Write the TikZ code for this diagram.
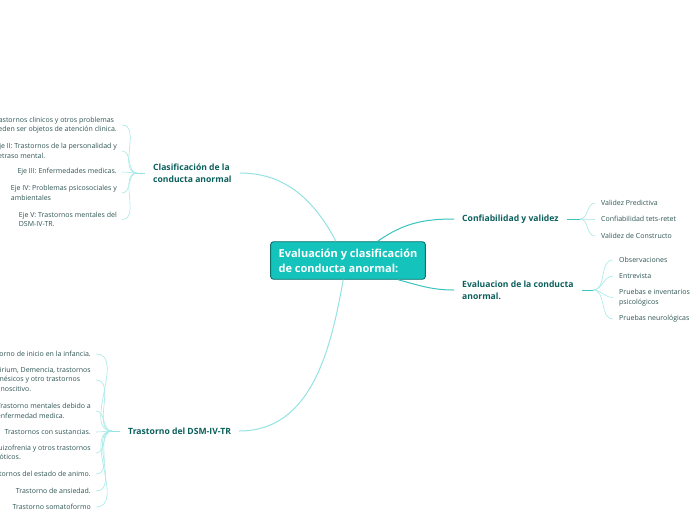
\documentclass[tikz,border=0pt]{standalone}
\usepackage{fontspec}
\setmainfont{Open Sans}

\definecolor{tealfill}{HTML}{14C4BC}
\definecolor{tealedge}{HTML}{0E6F6B}
\definecolor{branchtxt}{HTML}{0B5F5C}
\definecolor{leaftxt}{HTML}{2E5553}
\definecolor{twiglight}{HTML}{A8E9E9}
\definecolor{limblight}{HTML}{95E2E2}
\definecolor{limbdark}{HTML}{3AC4BF}

\tikzset{
  mainbox/.style={draw=tealedge, fill=tealfill, rounded corners=3pt, line width=0.9pt,
    text=white, font=\fontsize{11}{15}\selectfont\bfseries, align=left,
    inner xsep=8pt, inner ysep=7pt},
  branch/.style={text=branchtxt, font=\fontsize{8.6}{12}\selectfont\bfseries,
    align=left, inner xsep=8pt, inner ysep=1pt},
  leafR/.style={anchor=west, text=leaftxt, font=\fontsize{7}{9.5}\selectfont,
    align=left, inner xsep=6pt, inner ysep=0pt},
  leafL/.style={leafR, anchor=east, inner xsep=5pt},
  twig/.style={draw=twiglight, line width=0.6pt},
  limb/.style={line width=1pt}
}

\begin{document}
\begin{tikzpicture}[x=1pt, y=1pt]

% page
\fill[white] (0,0) rectangle (696,-520);
\useasboundingbox (0,0) rectangle (696,-520);

% Central topic
\node[mainbox] (eval) at (348,-260.5) {Evaluación y clasificación\\de conducta anormal:};

% Main branches
\node[branch, anchor=west] (clas) at (145,-173) {Clasificación de la\\conducta anormal};
\node[branch, anchor=west] (conf) at (454,-219) {Confiabilidad y validez};
\node[branch, anchor=west] (evcond) at (454,-290) {Evaluacion de la conducta\\anormal.};
\node[branch, anchor=west] (dsm) at (120,-431) {Trastorno del DSM-IV-TR};

\draw[limb, limblight] (eval.122) to[out=118, in=0] (clas.east);
\draw[limb, limbdark] (eval.33) to[out=35, in=180] (conf.west);
\draw[limb, limbdark] (eval.-21) to[out=-15, in=180] (evcond.west);
\draw[limb, limblight] (eval.-104) to[out=-100, in=0] (dsm.east);

% hubs where the leaves fan out
\coordinate (confhub) at (580,-219);
\coordinate (evhub) at (593,-290);
\coordinate (clashub) at (137,-173);
\coordinate (dsmhub) at (112,-431);

\draw[limbdark, line width=0.8pt] (conf.east) -- (confhub);
\draw[limbdark, line width=0.8pt] (evcond.east |- evhub) -- (evhub);
\draw[limblight, line width=0.8pt] (clas.west) -- (clashub);
\draw[limblight, line width=0.8pt] (dsm.west) -- (dsmhub);

% Confiabilidad y validez
\foreach \k/\yy/\txt in {
  1/203/Validez Predictiva,
  2/219/Confiabilidad tets-retet,
  3/236/Validez de Constructo}{
  \node[leafR] (conf\k) at (595,-\yy) {\txt};
  \draw[twig] (conf\k.west) to[out=180, in=0] (confhub);
}

% Evaluacion de la conducta
\foreach \k/\yy/\txt in {
  1/260/Observaciones,
  2/276/Entrevista,
  3/297.5/{Pruebas e inventarios\\psicológicos},
  4/319/Pruebas neurológicas}{
  \node[leafR] (ev\k) at (613,-\yy) {\txt};
  \draw[twig] (ev\k.west) to[out=180, in=0] (evhub);
}

% Clasificacion (ejes)
\foreach \k/\yy/\txt in {
  1/125/{Eje I: Trastornos clinicos y otros problemas\\que pueden ser objetos de atención clinica.},
  2/151/{Eje II: Trastornos de la personalidad y\\retraso mental.},
  3/172/{Eje III: Enfermedades medicas.},
  4/193/{Eje IV: Problemas psicosociales y\\ambientales},
  5/219.5/{Eje V: Trastornos mentales del\\DSM-IV-TR.}}{
  \node[leafL] (eje\k) at (122,-\yy) {\txt};
  \draw[twig] (eje\k.east) to[out=0, in=180] (clashub);
}

% Trastornos del DSM-IV-TR
\foreach \k/\yy/\txt in {
  1/354/{Trastorno de inicio en la infancia.},
  2/380/{Delirium, Demencia, trastornos\\amnésicos y otro trastornos\\cognoscitivo.},
  3/411/{Trastorno mentales debido a\\enfermedad medica.},
  4/432/{Trastornos con sustancias.},
  5/453/{Esquizofrenia y otros trastornos\\psicóticos.},
  6/474/{Trastornos del estado de animo.},
  7/491/{Trastorno de ansiedad.},
  8/507/Trastorno somatoformo}{
  \node[leafL] (tr\k) at (96,-\yy) {\txt};
  \draw[twig] (tr\k.east) to[out=0, in=180] (dsmhub);
}

\end{tikzpicture}
\end{document}
